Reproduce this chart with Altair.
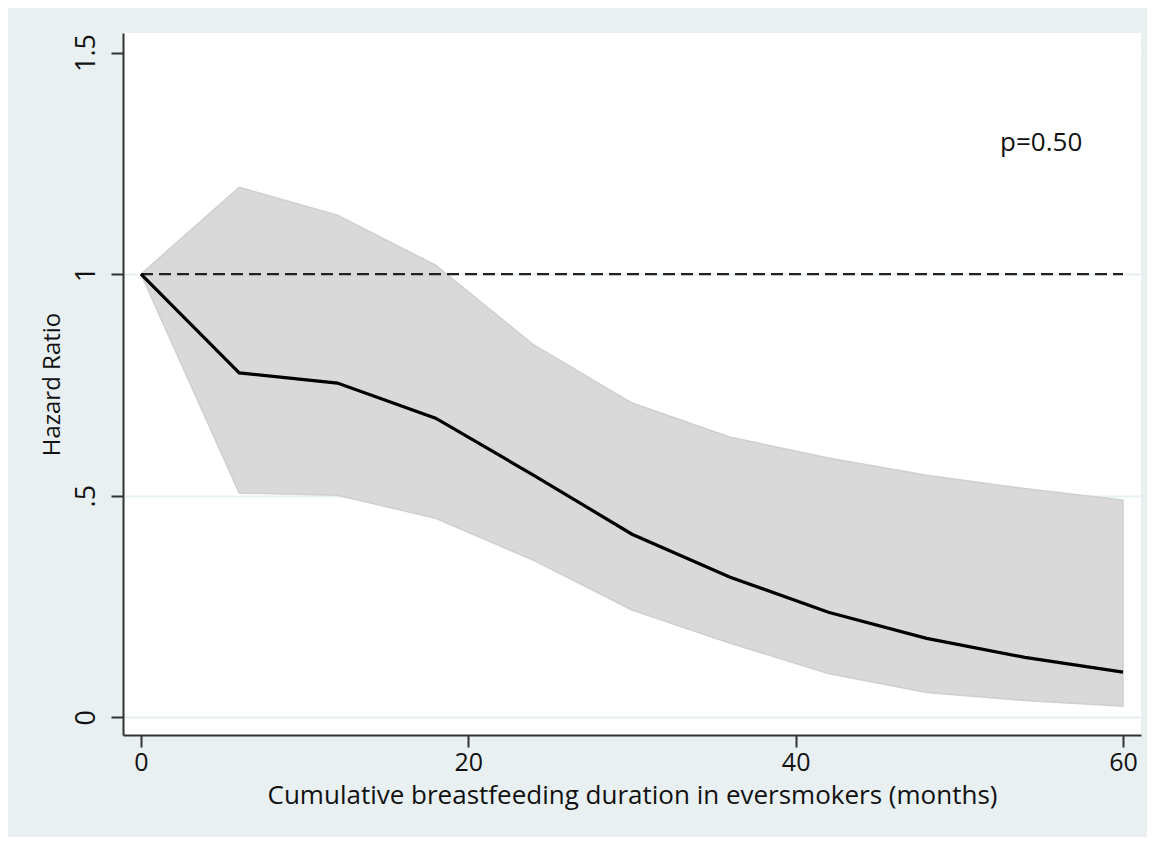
import altair as alt
import pandas as pd

months = [0, 6, 12, 18, 24, 30, 36, 42, 48, 54, 60]
hazard_ratio = [1.0, 0.777, 0.754, 0.675, 0.546, 0.413, 0.316, 0.237, 0.178, 0.135, 0.102]
ci_lower = [1.0, 0.506, 0.501, 0.449, 0.354, 0.242, 0.167, 0.099, 0.056, 0.038, 0.025]
ci_upper = [1.0, 1.196, 1.133, 1.020, 0.840, 0.709, 0.632, 0.585, 0.546, 0.516, 0.490]

ref_x = [0]
ref_x2 = [60]
ref_y = [1]

p_label = ["p=0.50"]
p_x = [55.0]
p_y = [1.296]

x_ticks = [0, 20, 40, 60]
y_ticks = [0, 0.5, 1, 1.5]

df = pd.DataFrame({"m": months, "hr": hazard_ratio, "lo": ci_lower, "hi": ci_upper})
ref = pd.DataFrame({"x": ref_x, "x2": ref_x2, "y": ref_y})
ann = pd.DataFrame({"t": p_label, "x": p_x, "y": p_y})

FONT = "Open Sans"
BG = "#e8f0f2"

xscale = alt.Scale(domain=[-1.1, 61.1], nice=False, zero=False)
yscale = alt.Scale(domain=[-0.04, 1.544], nice=False, zero=False)

xaxis = alt.Axis(
    values=x_ticks, title="Cumulative breastfeeding duration in eversmokers (months)",
    grid=False, tickSize=12, labelPadding=3, titlePadding=7,
    labelFontSize=25, titleFontSize=26, labelFont=FONT, titleFont=FONT,
    titleFontWeight="normal", labelColor="#111", titleColor="#111",
    domainColor="#333", domainWidth=2, tickColor="#333", tickWidth=2,
    labelFlush=False,
)
yaxis = alt.Axis(
    values=y_ticks, title="Hazard Ratio",
    labelExpr="datum.value == 0 ? '0' : datum.value == 0.5 ? '.5' : datum.value == 1 ? '1' : '1.5'",
    grid=True,
    gridColor={"condition": {"test": "datum.value > 1.4", "value": "white"}, "value": "#e6eff1"},
    gridWidth=2,
    tickSize=12, labelPadding=11, titlePadding=8, labelAngle=-90,
    labelAlign="center", labelBaseline="bottom",
    labelFontSize=27, titleFontSize=24, labelFont=FONT, titleFont=FONT,
    titleFontWeight="normal", labelColor="#111", titleColor="#111",
    domainColor="#333", domainWidth=2, tickColor="#333", tickWidth=2,
    labelFlush=False,
)

area = alt.Chart(df).mark_area(color="#d9d9d9", stroke="#cfcfcf", strokeWidth=1.5, opacity=1).encode(
    x=alt.X("m:Q", scale=xscale, axis=xaxis),
    y=alt.Y("lo:Q", scale=yscale, axis=yaxis),
    y2="hi:Q",
)

rule = alt.Chart(ref).mark_rule(color="#222222", strokeWidth=2.2, strokeDash=[12, 6]).encode(
    x=alt.X("x:Q", scale=xscale),
    x2="x2:Q",
    y=alt.Y("y:Q", scale=yscale),
)

line = alt.Chart(df).mark_line(color="#000000", strokeWidth=3.2).encode(
    x=alt.X("m:Q", scale=xscale),
    y=alt.Y("hr:Q", scale=yscale),
)

text = alt.Chart(ann).mark_text(font=FONT, fontSize=26, color="#111", align="center", baseline="middle").encode(
    x=alt.X("x:Q", scale=xscale),
    y=alt.Y("y:Q", scale=yscale),
    text="t:N",
)

chart = alt.layer(area, rule, line, text).properties(
    width=1018, height=702,
    padding={"left": 115, "top": 25, "right": 6, "bottom": 102},
    autosize=alt.AutoSizeParams(type="none"),
).configure(background=BG).configure_view(stroke=None, fill="white")

chart.save("out.html", embed_options={"renderer": "svg", "actions": False})
